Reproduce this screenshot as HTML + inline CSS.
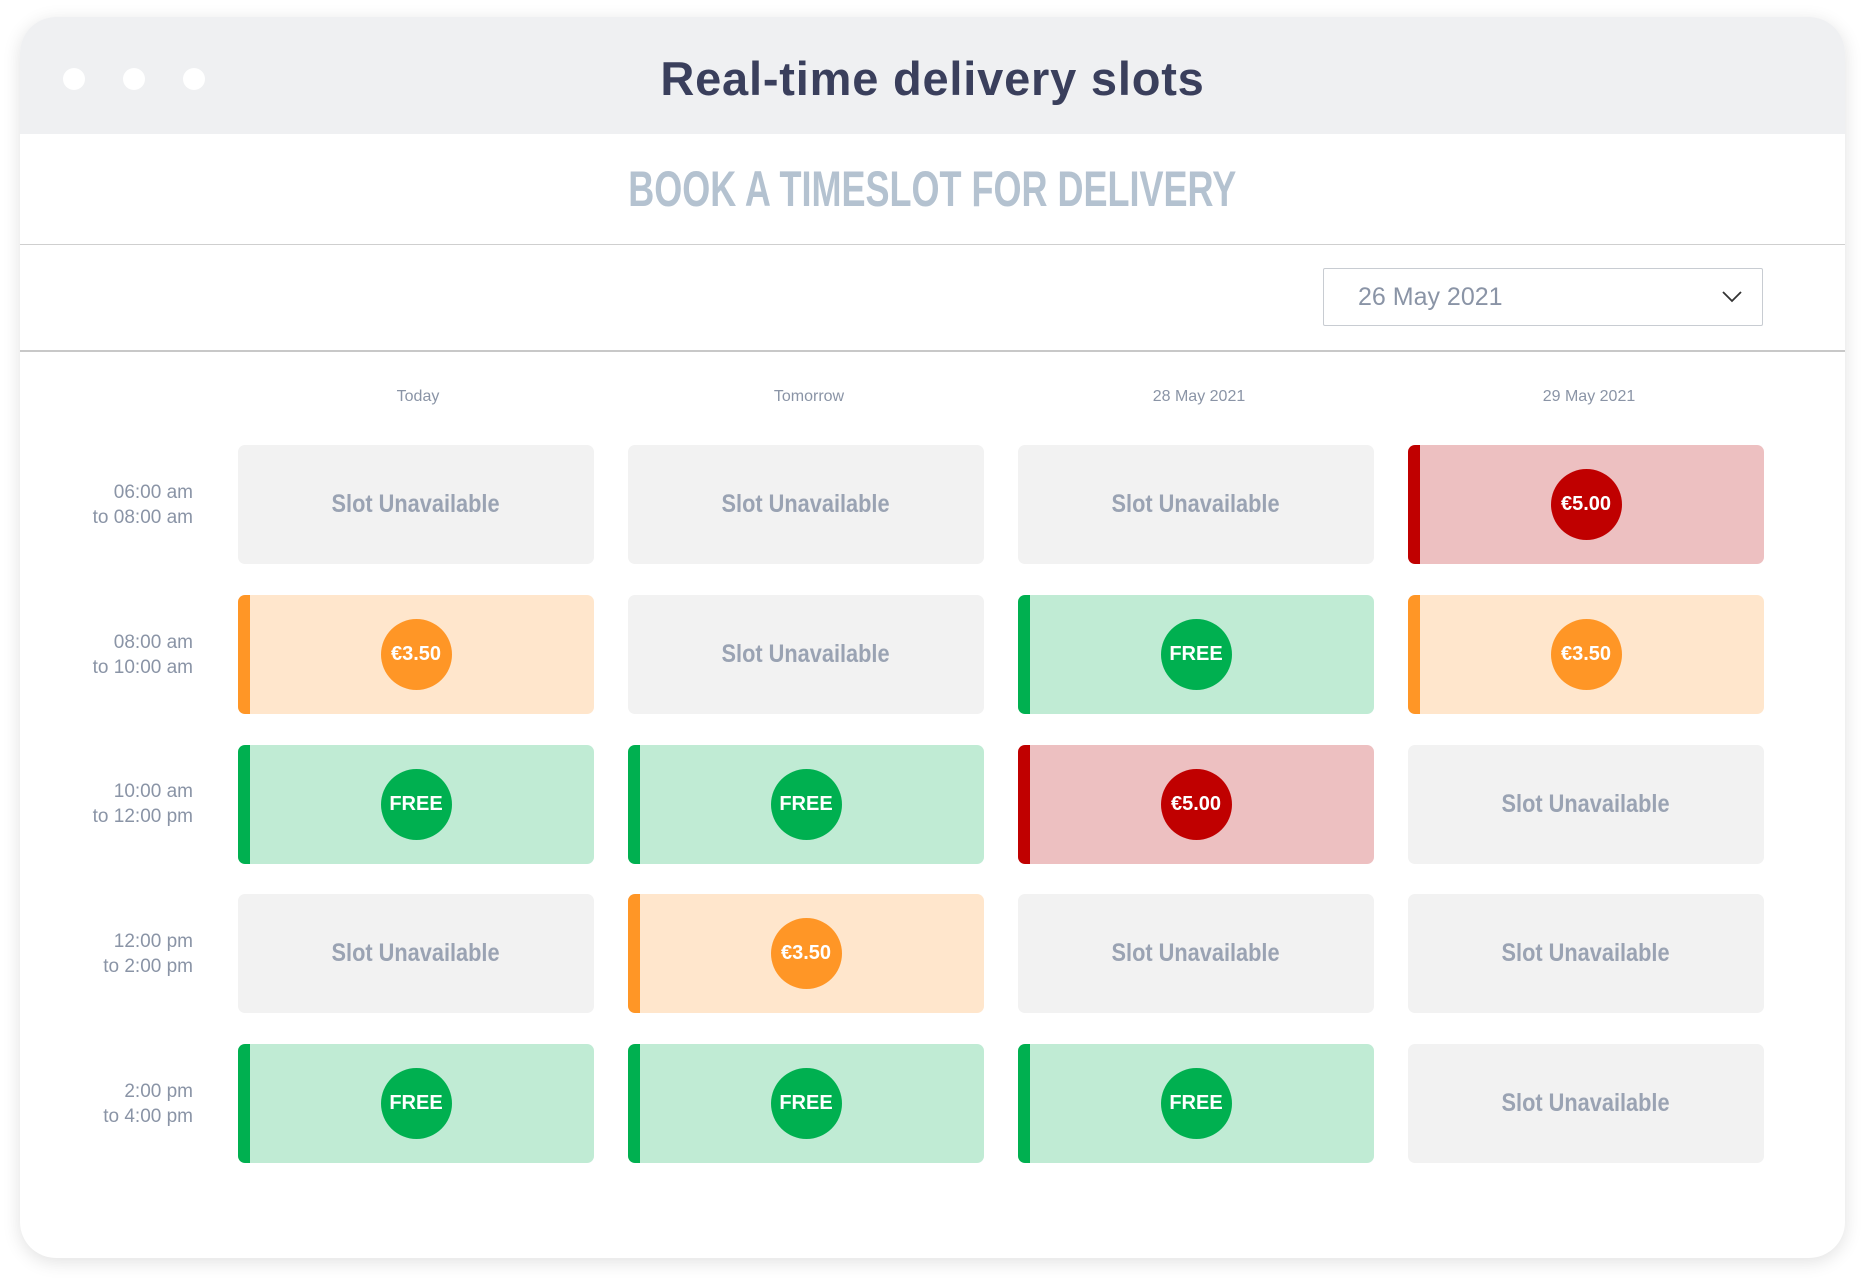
<!DOCTYPE html>
<html><head><meta charset="utf-8"><style>
*{margin:0;padding:0;box-sizing:border-box}
body{width:1865px;height:1280px;background:#fff;position:relative;overflow:hidden;font-family:"Liberation Sans",sans-serif}
.card{position:absolute;left:20px;top:17px;width:1825px;height:1241px;border-radius:36px;background:#fff;box-shadow:0 4px 18px rgba(0,0,0,.12);overflow:hidden}
.hdr{position:absolute;left:0;top:0;width:100%;height:117px;background:#eff0f2}
.dot{position:absolute;top:51px;width:22px;height:22px;border-radius:50%;background:#fff}
.title{position:absolute;left:0;width:100%;top:34px;text-align:center;font-size:47px;font-weight:bold;color:#3a3f5c;letter-spacing:0.8px}
.sub{position:absolute;left:0;width:100%;top:143px;text-align:center;font-size:50px;font-weight:bold;color:#b4c2d0}
.sub span{display:inline-block;transform:scaleX(0.72)}
.l1{position:absolute;left:0;width:100%;top:227px;height:1px;background:#cfcfcf}
.l2{position:absolute;left:0;width:100%;top:333px;height:2px;background:#c8c8c8}
.dd{position:absolute;left:1303px;top:251px;width:440px;height:58px;border:1px solid #c8ccd2;border-radius:2px}
.dd span{position:absolute;left:34px;top:14px;font-size:25px;color:#8a94a6}
.dd svg{position:absolute;right:20px;top:22px}
.ch{position:absolute;top:371px;font-size:16px;color:#8a94a6;width:300px;margin-left:-150px;text-align:center}
.tl{position:absolute;left:20px;width:153px;text-align:right;font-size:19px;line-height:25px;color:#8a94a6}
.s{position:absolute;width:356px;height:119px;border-radius:7px;display:flex;align-items:center;justify-content:center;overflow:hidden}
.g{background:#f2f2f2;color:#9aa3b3;font-weight:bold;font-size:25px}
.g span{display:inline-block;transform:scaleX(0.87)}
.o{background:#ffe6cc;border-left:12px solid #ff9626}
.f{background:#c0ebd4;border-left:12px solid #00b050}
.r{background:#edc0c1;border-left:12px solid #c00000}
.b{width:71px;height:71px;border-radius:50%;color:#fff;font-weight:bold;font-size:20px;display:flex;align-items:center;justify-content:center;margin-left:-12px}
.o .b{background:#ff9626}.f .b{background:#00b050}.r .b{background:#c00000}
</style></head><body>
<div class="card">
<div class="hdr"></div>
<div class="dot" style="left:43px"></div><div class="dot" style="left:103px"></div><div class="dot" style="left:163px"></div>
<div class="title">Real-time delivery slots</div>
<div class="sub"><span>BOOK A TIMESLOT FOR DELIVERY</span></div>
<div class="l1"></div>
<div class="dd"><span>26 May 2021</span><svg width="20" height="12" viewBox="0 0 20 12"><path d="M1 1 L10 10 L19 1" fill="none" stroke="#333" stroke-width="1.8"/></svg></div>
<div class="l2"></div>
<div class="ch" style="left:398px">Today</div>
<div class="ch" style="left:789px">Tomorrow</div>
<div class="ch" style="left:1179px">28 May 2021</div>
<div class="ch" style="left:1569px">29 May 2021</div>

<div class="tl" style="top:463px">06:00 am<br>to 08:00 am</div>
<div class="tl" style="top:613px">08:00 am<br>to 10:00 am</div>
<div class="tl" style="top:762px">10:00 am<br>to 12:00 pm</div>
<div class="tl" style="top:912px">12:00 pm<br>to 2:00 pm</div>
<div class="tl" style="top:1062px">2:00 pm<br>to 4:00 pm</div>

<div class="s g" style="left:218px;top:428px"><span>Slot Unavailable</span></div>
<div class="s g" style="left:608px;top:428px"><span>Slot Unavailable</span></div>
<div class="s g" style="left:998px;top:428px"><span>Slot Unavailable</span></div>
<div class="s r" style="left:1388px;top:428px"><div class="b">€5.00</div></div>

<div class="s o" style="left:218px;top:578px"><div class="b">€3.50</div></div>
<div class="s g" style="left:608px;top:578px"><span>Slot Unavailable</span></div>
<div class="s f" style="left:998px;top:578px"><div class="b">FREE</div></div>
<div class="s o" style="left:1388px;top:578px"><div class="b">€3.50</div></div>

<div class="s f" style="left:218px;top:728px"><div class="b">FREE</div></div>
<div class="s f" style="left:608px;top:728px"><div class="b">FREE</div></div>
<div class="s r" style="left:998px;top:728px"><div class="b">€5.00</div></div>
<div class="s g" style="left:1388px;top:728px"><span>Slot Unavailable</span></div>

<div class="s g" style="left:218px;top:877px"><span>Slot Unavailable</span></div>
<div class="s o" style="left:608px;top:877px"><div class="b">€3.50</div></div>
<div class="s g" style="left:998px;top:877px"><span>Slot Unavailable</span></div>
<div class="s g" style="left:1388px;top:877px"><span>Slot Unavailable</span></div>

<div class="s f" style="left:218px;top:1027px"><div class="b">FREE</div></div>
<div class="s f" style="left:608px;top:1027px"><div class="b">FREE</div></div>
<div class="s f" style="left:998px;top:1027px"><div class="b">FREE</div></div>
<div class="s g" style="left:1388px;top:1027px"><span>Slot Unavailable</span></div>
</div>
</body></html>
